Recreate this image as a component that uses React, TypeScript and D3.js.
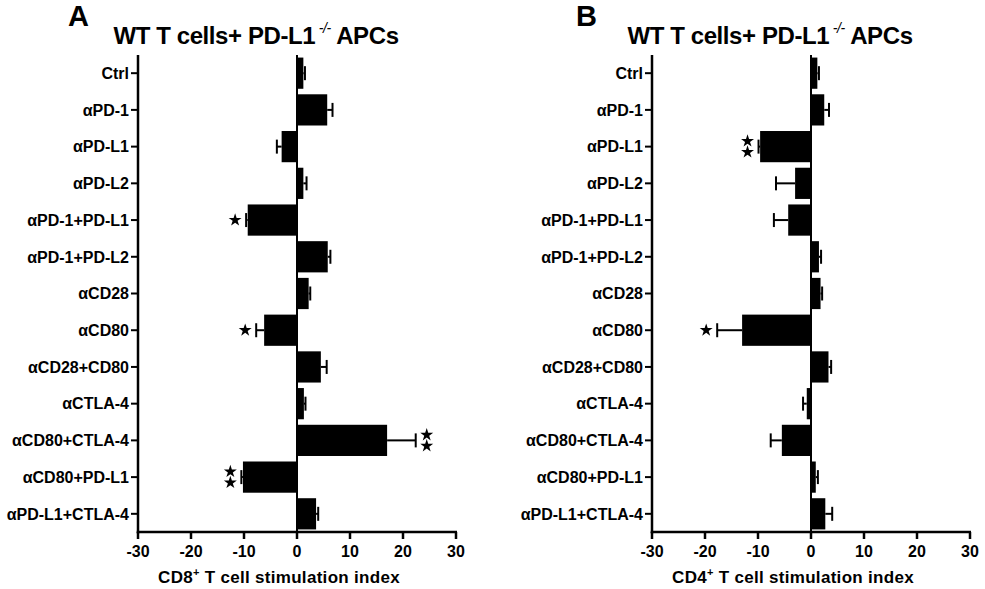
import React from 'react';
import * as d3 from 'd3';

const categories = [
  'Ctrl', 'αPD-1', 'αPD-L1', 'αPD-L2', 'αPD-1+PD-L1', 'αPD-1+PD-L2', 'αCD28',
  'αCD80', 'αCD28+CD80', 'αCTLA-4', 'αCD80+CTLA-4', 'αCD80+PD-L1', 'αPD-L1+CTLA-4',
];

// CD8+ panel (A)
const cd8Values = [1.2, 5.7, -2.9, 1.2, -9.3, 5.8, 2.2, -6.2, 4.5, 1.3, 17.0, -10.2, 3.6];
const cd8Errors = [0.3, 1.0, 0.9, 0.6, 0.3, 0.5, 0.3, 1.5, 1.1, 0.3, 5.4, 0.3, 0.4];
const cd8Stars = [0, 0, 0, 0, 1, 0, 0, 1, 0, 0, 2, 2, 0];

// CD4+ panel (B)
const cd4Values = [1.2, 2.5, -9.6, -3.0, -4.3, 1.5, 1.8, -13.0, 3.3, -0.8, -5.5, 0.9, 2.7];
const cd4Errors = [0.3, 0.9, 0.3, 3.6, 2.7, 0.4, 0.3, 4.7, 0.5, 0.7, 2.1, 0.4, 1.3];
const cd4Stars = [0, 0, 2, 0, 0, 0, 0, 1, 0, 0, 0, 0, 0];

const xTicks = [-30, -20, -10, 0, 10, 20, 30];

const FONT = '"Liberation Sans", Arial, sans-serif';

type PanelProps = {
  letter: string;
  letterX: number;
  left: number;
  right: number;
  cell: string;
  values: number[];
  errors: number[];
  stars: number[];
};

const TOP = 55;
const BOTTOM = 532;

const Star: React.FC<{ cx: number; cy: number }> = ({ cx, cy }) => (
  <path d={d3.symbol(d3.symbolStar, 52)() || ''} transform={`translate(${cx},${cy})`} fill="#000" />
);

const Panel: React.FC<PanelProps> = ({ letter, letterX, left, right, cell, values, errors, stars }) => {
  const x = d3.scaleLinear().domain([-30, 30]).range([left, right]);
  const y = d3.scaleBand<string>().domain(categories).range([TOP, BOTTOM]).paddingInner(0.15).paddingOuter(0.07);
  const x0 = x(0);
  const mid = (left + right) / 2;
  const bh = y.bandwidth();
  return (
    <g fontFamily={FONT} fontWeight="bold" fill="#000">
      <text x={letterX} y={26} fontSize={29}>{letter}</text>
      <text x={mid - 41} y={44} fontSize={24} textAnchor="middle" letterSpacing={-0.4}>
        WT T cells+ PD-L1
        <tspan fontSize={14} dy={-11} fontWeight="normal" fontStyle="italic"> -/-</tspan>
        <tspan dy={11}> APCs</tspan>
      </text>

      {/* zero line */}
      <line x1={x0} x2={x0} y1={TOP} y2={BOTTOM} stroke="#000" strokeWidth={2} />

      {categories.map((c, i) => {
        const v = values[i];
        const e = errors[i];
        const yc = (y(c) as number) + bh / 2;
        const xv = x(v);
        const xe = x(v + Math.sign(v) * e);
        const starX = xe + Math.sign(v) * 11;
        return (
          <g key={c}>
            <rect x={Math.min(x0, xv)} y={y(c)} width={Math.abs(xv - x0)} height={bh} fill="#000" />
            <line x1={xv} x2={xe} y1={yc} y2={yc} stroke="#000" strokeWidth={2} />
            <line x1={xe} x2={xe} y1={yc - 7} y2={yc + 7} stroke="#000" strokeWidth={2} />
            {stars[i] === 1 && <Star cx={starX} cy={yc} />}
            {stars[i] === 2 && (
              <>
                <Star cx={starX} cy={yc - 5.5} />
                <Star cx={starX} cy={yc + 5.5} />
              </>
            )}
            <line x1={left - 7} x2={left} y1={yc} y2={yc} stroke="#000" strokeWidth={2} />
            <text x={left - 9} y={yc} dy="0.36em" fontSize={16} textAnchor="end">{c}</text>
          </g>
        );
      })}

      {/* axes */}
      <line x1={left} x2={left} y1={TOP} y2={BOTTOM + 1.25} stroke="#000" strokeWidth={2.5} />
      <line x1={left - 1.25} x2={right + 1} y1={BOTTOM} y2={BOTTOM} stroke="#000" strokeWidth={2.5} />
      {xTicks.map(t => (
        <g key={t}>
          <line x1={x(t)} x2={x(t)} y1={BOTTOM} y2={BOTTOM + 7} stroke="#000" strokeWidth={2.5} />
          <text x={x(t)} y={557} fontSize={16} textAnchor="middle">{t}</text>
        </g>
      ))}
      <text x={mid - 18} y={583} fontSize={17} textAnchor="middle" letterSpacing={0.3}>
        {cell}
        <tspan fontSize={11} dy={-7}>+</tspan>
        <tspan dy={7}> T cell stimulation index</tspan>
      </text>
    </g>
  );
};

export default function App() {
  return (
    <svg width={985} height={589} style={{ position: 'absolute', left: 0, top: 0, background: '#fff' }}>
      <rect width={985} height={589} fill="#fff" />
      <Panel letter="A" letterX={68} left={138} right={456} cell="CD8"
        values={cd8Values} errors={cd8Errors} stars={cd8Stars} />
      <Panel letter="B" letterX={576} left={652} right={970} cell="CD4"
        values={cd4Values} errors={cd4Errors} stars={cd4Stars} />
    </svg>
  );
}
